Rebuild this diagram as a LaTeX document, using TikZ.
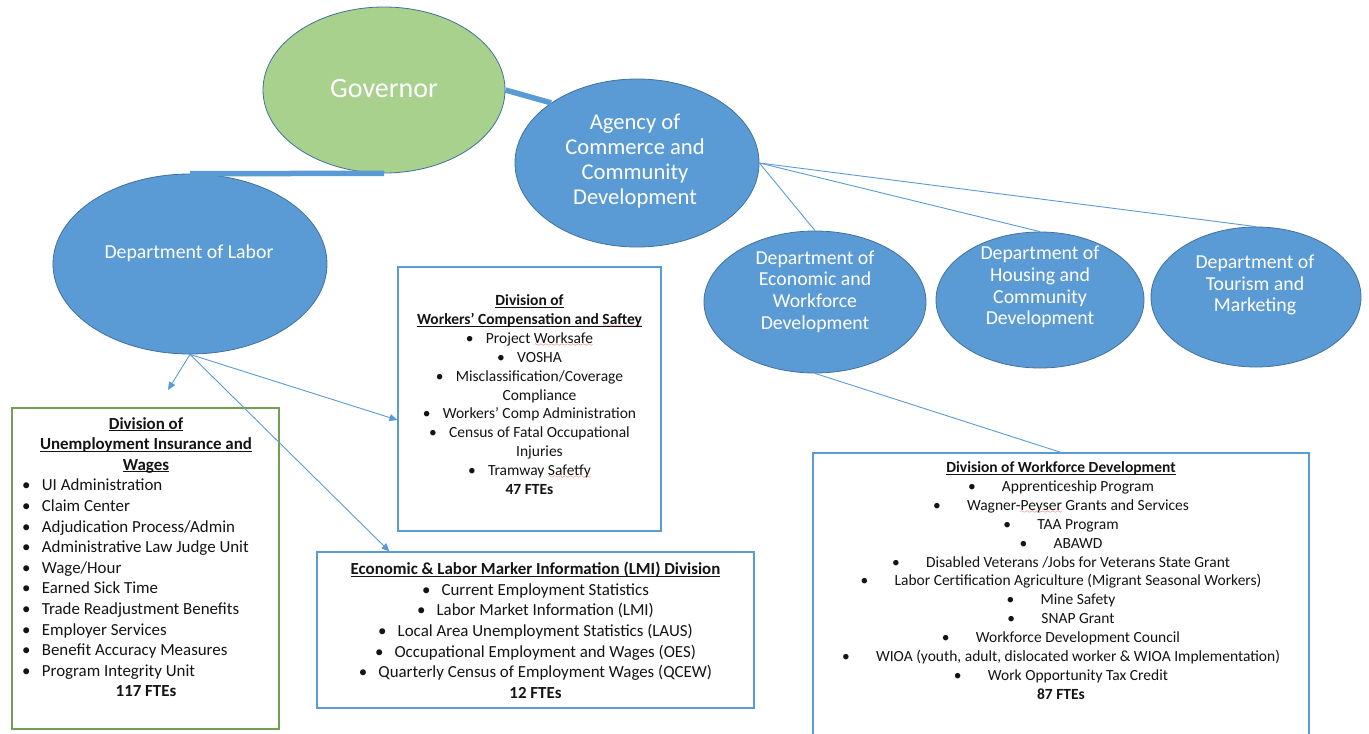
\documentclass[tikz,border=0pt]{standalone}
\usepackage{fontspec}
\setmainfont{Carlito}
\usetikzlibrary{shapes.geometric,arrows.meta,calc}
\definecolor{ublue}{RGB}{91,155,213}
\definecolor{edgeblue}{RGB}{65,113,156}
\definecolor{ggreen}{RGB}{169,209,142}
\definecolor{bgreen}{RGB}{118,158,82}
\definecolor{txt}{RGB}{20,20,20}
\font\sixly=lasy6
\newcommand\spell[1]{\setbox0\hbox{#1}\rlap{\color{red}\lower3pt\hbox to\wd0{\xleaders\hbox{\sixly\char58}\hfil}}\box0\relax}
\newcommand\ttl[1]{\underline{\raisebox{0pt}[\height][0pt]{#1}}}
\newcommand\bl[2]{\makebox[#1][l]{\textbullet}#2}
\tikzset{
  oval/.style={ellipse, draw=edgeblue, line width=0.8pt, fill=ublue, inner sep=0pt},
  ovaltext/.style={text=white, align=center, inner sep=0pt},
  divbox/.style={rectangle, draw=ublue, line width=1.2pt, inner sep=0pt},
  boxtext/.style={text=txt, align=center, inner sep=0pt},
  listtext/.style={text=txt, align=left, inner sep=0pt},
  link/.style={draw=ublue, line width=0.9pt},
  heavylink/.style={draw=ublue, line width=5.5pt},
  arrowlink/.style={draw=ublue, line width=0.9pt, -{Triangle[length=8pt,width=7pt]}},
  fsA/.style={font=\fontsize{16.9}{20.6}\selectfont},
  fsB/.style={font=\fontsize{15.5}{18.9}\selectfont},
  fsO/.style={font=\fontsize{19.8}{21.7}\selectfont}
}
\begin{document}
\begin{tikzpicture}[x=1pt,y=-1pt]
\useasboundingbox (0,0) rectangle (1369,734);
\fill[white] (0,0) rectangle (1369,734);

% ellipses
\node[oval, fill=ggreen, minimum width=242pt, minimum height=166pt] (gov) at (384,90) {};
\node[oval, minimum width=244pt, minimum height=168pt] (agency) at (637,163) {};
\node[oval, minimum width=274pt, minimum height=180pt] (labor) at (190,264) {};
\node[oval, minimum width=222pt, minimum height=142pt] (econ) at (815,302) {};
\node[oval, minimum width=208pt, minimum height=136pt] (housing) at (1040,300) {};
\node[oval, minimum width=210pt, minimum height=140pt] (tourism) at (1256,297) {};

\node[ovaltext, font=\fontsize{28}{34}\selectfont] (govT) at (384,89) {Governor};
\node[ovaltext, font=\fontsize{22.6}{25}\selectfont] (agencyT) at (635,161) {Agency of\\Commerce and\\Community\\Development};
\node[ovaltext, fsO] (laborT) at (189,253) {Department of Labor};
\node[ovaltext, fsO] (econT) at (815,291.5) {Department of\\Economic and\\Workforce\\Development};
\node[ovaltext, fsO] (housingT) at (1040,287) {Department of\\Housing and\\Community\\Development};
\node[ovaltext, fsO] (tourismT) at (1255,285) {Department of\\Tourism and\\Marketing};

% boxes
\node[divbox, draw=bgreen, minimum width=267pt, minimum height=321pt] (ui) at (145.5,568.5) {};
\node[divbox, minimum width=263pt, minimum height=264pt] (wcs) at (529.5,399) {};
\node[divbox, minimum width=437pt, minimum height=156pt] (lmi) at (535.5,630) {};
\node[divbox, minimum width=496pt, minimum height=307pt] (wfd) at (1061,606.5) {};

% UI box text
\node[boxtext, fsA, anchor=north] (uiT) at (146,417) {\textbf{\ttl{Division of}}\\\textbf{\ttl{Unemployment Insurance and}}\\\textbf{\ttl{Wages}}};
\node[listtext, fsA, anchor=north west] (uiL) at (22,479) {%
\bl{19.7pt}{UI Administration}\\
\bl{19.7pt}{Claim Center}\\
\bl{19.7pt}{Adjudication Process/Admin}\\
\bl{19.7pt}{Administrative Law Judge Unit}\\
\bl{19.7pt}{Wage/Hour}\\
\bl{19.7pt}{Earned Sick Time}\\
\bl{19.7pt}{Trade Readjustment Benefits}\\
\bl{19.7pt}{Employer Services}\\
\bl{19.7pt}{Benefit Accuracy Measures}\\
\bl{19.7pt}{Program Integrity Unit}};
\node[boxtext, fsA] (uiF) at (146,691) {\textbf{117 FTEs}};

% WCS box text
\node[boxtext, fsB, anchor=north] (wcsT) at (529.5,294.5) {%
\textbf{\ttl{Division of}}\\
\textbf{\ttl{Workers’ Compensation and \spell{Saftey}}}\\
\bl{20pt}{Project \spell{Worksafe}}\\
\bl{20pt}{VOSHA}\\
\bl{20pt}{Misclassification/Coverage}\\
\hspace*{20pt}Compliance\\
\bl{20pt}{Workers’ Comp Administration}\\
\bl{20pt}{Census of Fatal Occupational}\\
\hspace*{20pt}Injuries\\
\bl{20pt}{Tramway \spell{Safetfy}}\\
\textbf{47 FTEs}};

% LMI box text
\node[boxtext, fsA, anchor=north] (lmiT) at (535.5,562) {%
\textbf{\ttl{Economic \& Labor Marker Information (LMI) Division}}\\
\bl{19.5pt}{Current Employment Statistics}\\
\bl{19.5pt}{Labor Market Information (LMI)}\\
\bl{19.5pt}{Local Area Unemployment Statistics (LAUS)}\\
\bl{19.5pt}{Occupational Employment and Wages (OES)}\\
\bl{19.5pt}{Quarterly Census of Employment Wages (QCEW)}\\
\textbf{12 FTEs}};

% WFD box text
\node[boxtext, fsB, anchor=north] (wfdT) at (1061,461.5) {%
\textbf{\ttl{Division of Workforce Development}}\\
\bl{34pt}{Apprenticeship Program}\\
\bl{34pt}{Wagner-\spell{Peyser} Grants and Services}\\
\bl{34pt}{TAA Program}\\
\bl{34pt}{ABAWD}\\
\bl{34pt}{Disabled Veterans /Jobs for Veterans State Grant}\\
\bl{34pt}{Labor Certification Agriculture (Migrant Seasonal Workers)}\\
\bl{34pt}{Mine Safety}\\
\bl{34pt}{SNAP Grant}\\
\bl{34pt}{Workforce Development Council}\\
\bl{34pt}{WIOA (youth, adult, dislocated worker \& WIOA Implementation)}\\
\bl{34pt}{Work Opportunity Tax Credit}\\
\textbf{87 FTEs}};

% connectors
\draw[heavylink] (gov.east) -- (agency.145);
\draw[heavylink] (labor.north) -- (gov.south);
\draw[link] (agency.east) -- (econ.north);
\draw[link] (agency.east) -- (housing.north);
\draw[link] (agency.east) -- (tourism.north);
\draw[link] (econ.south) -- (wfd.north);
\coordinate (uiArrow) at (168,390);
\draw[arrowlink] (labor.south) -- (uiArrow);
\draw[arrowlink] (labor.south) -- ($(wcs.west)+(0,21)$);
\draw[arrowlink] (labor.south) -- ($(lmi.north west)+(73,0)$);
\end{tikzpicture}
\end{document}
